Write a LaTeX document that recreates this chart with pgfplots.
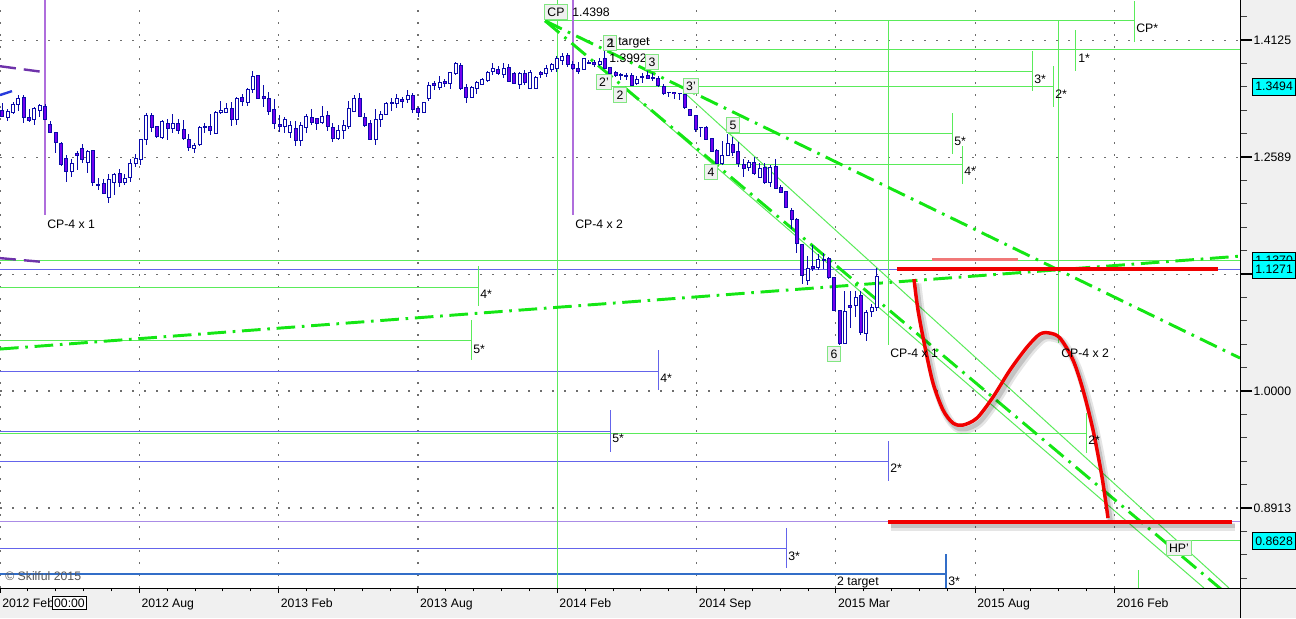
\documentclass[border=0pt]{standalone}
\usepackage{pgfplots}
\pgfplotsset{compat=1.18}
\usepackage{pgfplotstable}
\usepackage{fontspec}
\setmainfont{Liberation Sans}
\newcommand\lab{\fontsize{9.2pt}{11pt}\selectfont}
\definecolor{cdk}{RGB}{10,10,170}
\definecolor{cbear}{RGB}{115,0,240}
\definecolor{tg}{RGB}{90,235,90}
\definecolor{dg}{RGB}{20,230,20}
\definecolor{bl}{RGB}{100,100,235}
\definecolor{bltwo}{RGB}{50,110,200}
\definecolor{pu}{RGB}{175,110,220}
\definecolor{lpu}{RGB}{170,140,230}
\definecolor{dpu}{RGB}{110,50,170}
\definecolor{dbl}{RGB}{40,60,220}
\definecolor{rd}{RGB}{240,0,0}
\definecolor{salmon}{RGB}{240,120,120}
\definecolor{bxg}{RGB}{130,230,130}
\definecolor{bxf}{RGB}{240,240,240}
\definecolor{panel}{RGB}{240,240,240}
\definecolor{gridc}{RGB}{110,110,110}
\definecolor{cyanbox}{RGB}{0,255,255}

\pgfplotstableread{
x o h l c d
2.3 1.3185 1.3277 1.3095 1.3108 1
7.6 1.3095 1.3198 1.3043 1.3172 0
13.0 1.3159 1.3290 1.3134 1.3264 0
18.3 1.3264 1.3382 1.3172 1.3342 0
23.6 1.3355 1.3382 1.3018 1.3095 1
29.0 1.3095 1.3198 1.3030 1.3056 1
34.3 1.3069 1.3225 1.2992 1.3211 0
39.6 1.3185 1.3264 1.3095 1.3251 0
45.0 1.3238 1.3264 1.3069 1.3069 1
50.3 1.3005 1.3043 1.2890 1.2903 1
55.6 1.2903 1.2903 1.2639 1.2777 1
61.0 1.2764 1.2777 1.2478 1.2503 1
66.3 1.2577 1.2614 1.2284 1.2417 1
71.6 1.2417 1.2565 1.2344 1.2515 0
77.0 1.2639 1.2664 1.2429 1.2614 1
82.3 1.2701 1.2752 1.2515 1.2565 1
87.6 1.2528 1.2676 1.2393 1.2664 0
92.9 1.2676 1.2676 1.2236 1.2284 1
98.3 1.2260 1.2332 1.2187 1.2248 1
103.6 1.2272 1.2320 1.2139 1.2151 1
108.9 1.2104 1.2381 1.2033 1.2320 0
114.3 1.2284 1.2393 1.2128 1.2381 0
119.6 1.2393 1.2441 1.2223 1.2284 1
124.9 1.2284 1.2381 1.2248 1.2332 0
130.3 1.2344 1.2565 1.2284 1.2515 0
135.6 1.2515 1.2627 1.2466 1.2577 0
140.9 1.2565 1.2815 1.2491 1.2815 0
146.3 1.2815 1.3146 1.2739 1.3121 0
151.6 1.3121 1.3146 1.2903 1.2966 1
156.9 1.2979 1.2979 1.2827 1.2852 1
162.3 1.2840 1.3056 1.2815 1.3043 0
167.6 1.3018 1.3069 1.2802 1.2954 1
172.9 1.2954 1.3134 1.2890 1.3018 0
178.3 1.3018 1.3069 1.2878 1.2928 1
183.6 1.2941 1.3056 1.2802 1.2827 1
188.9 1.2815 1.2878 1.2664 1.2714 1
194.3 1.2701 1.2764 1.2639 1.2739 0
199.6 1.2752 1.2979 1.2726 1.2966 0
204.9 1.2979 1.3018 1.2890 1.2966 1
210.3 1.2979 1.3134 1.2865 1.2928 1
215.6 1.2890 1.3172 1.2878 1.3159 0
220.9 1.3159 1.3303 1.3134 1.3185 0
226.3 1.3159 1.3277 1.3146 1.3211 0
231.6 1.3211 1.3290 1.2979 1.3069 1
236.9 1.3069 1.3355 1.2992 1.3342 0
242.3 1.3355 1.3395 1.3238 1.3303 1
247.6 1.3290 1.3474 1.3238 1.3460 0
252.9 1.3460 1.3701 1.3408 1.3634 0
258.3 1.3647 1.3647 1.3329 1.3342 1
263.6 1.3369 1.3514 1.3225 1.3342 1
268.9 1.3342 1.3421 1.3121 1.3172 1
274.3 1.3198 1.3329 1.2941 1.3018 1
279.6 1.3005 1.3121 1.2903 1.2979 1
284.9 1.2979 1.3095 1.2890 1.3069 0
290.3 1.2903 1.3043 1.2827 1.2992 0
295.6 1.2954 1.3043 1.2726 1.2802 1
300.9 1.2802 1.3030 1.2726 1.2992 0
306.3 1.2966 1.3134 1.2890 1.3108 0
311.6 1.3095 1.3198 1.2992 1.3030 1
316.9 1.3082 1.3082 1.2928 1.3018 1
322.3 1.3030 1.3238 1.3005 1.3108 0
327.6 1.3121 1.3172 1.2915 1.2979 1
332.9 1.2966 1.3018 1.2777 1.2827 1
338.3 1.2827 1.2992 1.2802 1.2928 0
343.6 1.2928 1.3056 1.2815 1.2992 0
348.9 1.2979 1.3303 1.2941 1.3211 0
354.3 1.3172 1.3382 1.3159 1.3342 0
359.6 1.3342 1.3408 1.3095 1.3108 1
364.9 1.3095 1.3146 1.2966 1.2992 1
370.3 1.3018 1.3056 1.2802 1.2815 1
375.6 1.2815 1.3198 1.2739 1.3069 0
380.9 1.3069 1.3172 1.2966 1.3134 0
386.3 1.3134 1.3290 1.3121 1.3277 0
391.6 1.3290 1.3342 1.3172 1.3277 1
396.9 1.3277 1.3395 1.3211 1.3342 0
402.3 1.3329 1.3355 1.3211 1.3303 1
407.6 1.3329 1.3447 1.3277 1.3382 0
412.9 1.3382 1.3408 1.3146 1.3198 1
418.3 1.3211 1.3225 1.3095 1.3159 1
423.6 1.3159 1.3290 1.3146 1.3290 0
428.9 1.3342 1.3553 1.3303 1.3514 0
434.3 1.3540 1.3567 1.3447 1.3514 1
439.6 1.3487 1.3634 1.3447 1.3553 0
444.9 1.3567 1.3593 1.3487 1.3540 1
450.3 1.3540 1.3687 1.3460 1.3687 0
455.6 1.3674 1.3823 1.3647 1.3809 0
460.9 1.3782 1.3809 1.3447 1.3474 1
466.3 1.3487 1.3527 1.3277 1.3355 1
471.6 1.3355 1.3500 1.3355 1.3487 0
476.9 1.3474 1.3567 1.3395 1.3553 0
482.3 1.3527 1.3607 1.3514 1.3593 0
487.6 1.3580 1.3701 1.3553 1.3687 0
492.9 1.3701 1.3809 1.3647 1.3741 0
498.3 1.3728 1.3768 1.3647 1.3674 1
503.6 1.3660 1.3809 1.3607 1.3741 0
508.9 1.3755 1.3796 1.3567 1.3567 1
514.3 1.3674 1.3687 1.3527 1.3540 1
519.6 1.3527 1.3687 1.3460 1.3674 0
524.9 1.3674 1.3714 1.3514 1.3553 1
530.3 1.3474 1.3714 1.3460 1.3687 0
535.6 1.3474 1.3634 1.3460 1.3620 0
540.9 1.3687 1.3701 1.3607 1.3660 1
546.3 1.3674 1.3782 1.3620 1.3741 0
551.6 1.3728 1.3809 1.3687 1.3796 0
556.9 1.3741 1.3905 1.3687 1.3878 0
562.3 1.3850 1.3946 1.3782 1.3905 0
567.6 1.3919 1.3946 1.3755 1.3796 1
572.9 1.3796 1.3836 1.3714 1.3741 1
578.3 1.3741 1.3823 1.3660 1.3701 1
583.6 1.3728 1.3878 1.3714 1.3878 0
588.9 1.3823 1.3850 1.3796 1.3809 1
594.3 1.3823 1.3850 1.3755 1.3796 1
599.6 1.3796 1.3878 1.3768 1.3836 0
604.9 1.3878 1.3992 1.3728 1.3741 1
610.3 1.3755 1.3755 1.3634 1.3674 1
615.6 1.3687 1.3701 1.3620 1.3647 1
620.9 1.3660 1.3674 1.3580 1.3647 1
626.3 1.3647 1.3674 1.3580 1.3634 1
631.6 1.3647 1.3674 1.3500 1.3514 1
636.9 1.3540 1.3634 1.3514 1.3593 0
642.3 1.3634 1.3674 1.3540 1.3620 1
647.6 1.3647 1.3701 1.3593 1.3607 1
652.9 1.3620 1.3674 1.3567 1.3607 1
658.3 1.3607 1.3634 1.3487 1.3514 1
663.6 1.3500 1.3527 1.3382 1.3408 1
668.9 1.3421 1.3421 1.3355 1.3415 1
674.3 1.3415 1.3415 1.3329 1.3410 1
679.6 1.3408 1.3408 1.3316 1.3402 1
684.9 1.3395 1.3408 1.3198 1.3225 1
690.3 1.3198 1.3198 1.3121 1.3121 1
695.6 1.3121 1.3121 1.2903 1.2941 1
700.9 1.2966 1.2966 1.2840 1.2960 1
706.3 1.2966 1.2979 1.2802 1.2815 1
711.6 1.2827 1.2827 1.2651 1.2664 1
716.9 1.2676 1.2689 1.2491 1.2515 1
722.3 1.2515 1.2789 1.2491 1.2614 0
727.6 1.2614 1.2878 1.2602 1.2764 0
732.9 1.2752 1.2840 1.2602 1.2651 1
738.3 1.2664 1.2777 1.2466 1.2515 1
743.6 1.2503 1.2565 1.2344 1.2454 1
748.9 1.2466 1.2552 1.2417 1.2528 0
754.3 1.2528 1.2589 1.2369 1.2393 1
759.6 1.2344 1.2515 1.2344 1.2454 0
764.9 1.2466 1.2515 1.2260 1.2284 1
770.3 1.2284 1.2491 1.2223 1.2466 0
775.6 1.2478 1.2565 1.2199 1.2211 1
780.9 1.2223 1.2248 1.2151 1.2163 1
786.3 1.2175 1.2175 1.1986 1.1986 1
791.6 1.1950 1.1974 1.1729 1.1845 1
796.9 1.1845 1.1857 1.1454 1.1568 1
802.3 1.1557 1.1557 1.1110 1.1209 1
807.6 1.1154 1.1421 1.1099 1.1286 0
812.9 1.1309 1.1545 1.1253 1.1286 1
818.3 1.1298 1.1443 1.1264 1.1387 0
823.6 1.1387 1.1454 1.1275 1.1376 1
828.9 1.1398 1.1410 1.1165 1.1187 1
834.3 1.1187 1.1187 1.0819 1.0830 1
839.6 1.0830 1.0830 1.0464 1.0484 1
844.9 1.0484 1.1034 1.0474 1.0819 0
850.3 1.0883 1.1034 1.0640 1.0862 1
855.6 1.0883 1.1034 1.0756 1.0969 0
860.9 1.0991 1.1034 1.0567 1.0598 1
866.3 1.0588 1.0830 1.0505 1.0809 0
871.6 1.0819 1.0894 1.0756 1.0862 0
876.9 1.0862 1.1286 1.0819 1.1198 0
}\candles

\tikzset{
  gbox/.style={draw=bxg, fill=bxf, font=\lab, inner sep=2pt, text height=6.8pt, text depth=0pt, line width=0.75pt},
  lab/.style={font=\lab, inner sep=0pt, anchor=west},
  pbox/.style={draw=black, fill=cyanbox, font=\lab, inner xsep=2.2pt, inner ysep=0pt, minimum height=13pt, anchor=west, line width=0.6pt},
  ddot/.style={dg, line width=2.2pt, dash pattern=on 14pt off 5pt on 2pt off 5pt},
  thn/.style={tg, line width=0.75pt},
  bln/.style={bl, line width=0.75pt},
}
\pgfplotsset{
  candlebar/.style={draw=none, mark=none, forget plot, error bars/.cd, y dir=minus, y explicit, error mark=none},
  candlecap/.style={draw=none, mark=none, forget plot, error bars/.cd, x dir=both, x fixed=2, error mark=none,
    error bar style={draw=cdk, line width=0.75pt}},
}

\begin{document}
\begin{tikzpicture}
\path[use as bounding box] (0,-22.5pt) rectangle (972pt,441pt);
\fill[panel] (0,-22.5pt) rectangle (972pt,0);
\fill[panel] (930pt,0) rectangle (972pt,441pt);

% x axis: ticks, labels, vertical grid
\begin{axis}[at={(0,0)}, anchor=south west, scale only axis,
  width=930pt, height=441pt, xmin=0, xmax=1240, ymin=0, ymax=1,
  axis x line*=bottom, axis y line=none,
  xtick={0,139.3,278.6,417.9,557.2,696.5,835.8,975.1,1114.4},
  xticklabels={2012 Feb,2012 Aug,2013 Feb,2013 Aug,2014 Feb,2014 Sep,2015 Mar,2015 Aug,2016 Feb},
  minor x tick num=4, tick align=outside,
  major tick length=3.75pt, minor tick length=2.5pt,
  every major tick/.append style={black, line width=0.75pt},
  every minor tick/.append style={black, line width=0.6pt},
  xmajorgrids, grid style={gridc, line width=0.9pt, dash pattern=on 1.2pt off 7.8pt},
  xticklabel style={font=\lab, anchor=north west, inner sep=0pt, xshift=1.5pt, yshift=-4pt},
  clip mode=individual]
\end{axis}

% main price axis
\begin{axis}[at={(0,0)}, anchor=south west, scale only axis,
  width=930pt, height=441pt, xmin=0, xmax=1240,
  ymode=log, ymin=0.8238, ymax=1.4695,
  axis x line=none, axis y line*=right,
  ytick={0.8913,1,1.1220,1.2589,1.4125},
  yticklabels={0.8913,1.0000,{},1.2589,1.4125},
  minor ytick={1.4454,1.3804,1.3490,1.3183,1.2882,1.2303,1.2023,1.1749,1.1482,1.0965,1.0715,1.0471,1.0233,0.9772,0.9550,0.9333,0.9120,0.8710,0.8511,0.8318},
  tick align=outside, major tick length=9pt, minor tick length=5.25pt,
  every major tick/.append style={black, line width=1.5pt},
  every minor tick/.append style={black!75, line width=0.75pt},
  ymajorgrids, grid style={gridc, line width=0.9pt, dash pattern=on 1.2pt off 7.8pt},
  yticklabel style={font=\lab, anchor=west, inner sep=1pt},
  clip mode=individual]

% --- horizontal level lines ---
\addplot[thn] coordinates {(545,1.4398) (1134,1.4398)};
\addplot[thn] coordinates {(607,1.3992) (1240,1.3992)};
\addplot[thn] coordinates {(648,1.3701) (1032,1.3701)};
\addplot[thn] coordinates {(598,1.3494) (1053,1.3494)};
\addplot[thn] coordinates {(728,1.2890) (952,1.2890)};
\addplot[thn] coordinates {(717,1.2503) (962,1.2503)};
\addplot[thn] coordinates {(0,1.1370) (1240,1.1370)};
\addplot[bln] coordinates {(0,1.1271) (1240,1.1271)};
\addplot[thn] coordinates {(0,1.1077) (478,1.1077)};
\addplot[thn] coordinates {(0,1.0505) (471,1.0505)};
\addplot[bln] coordinates {(0,1.0199) (658,1.0199)};
\addplot[thn] coordinates {(0,0.9595) (1086,0.9595)};
\addplot[bln] coordinates {(0,0.9614) (610,0.9614)};
\addplot[bln] coordinates {(0,0.9334) (888,0.9334)};
\addplot[lpu, line width=0.75pt] coordinates {(0,0.8799) (1240,0.8799)};
\addplot[thn] coordinates {(1167,0.8628) (1240,0.8628)};
\addplot[bln] coordinates {(0,0.8568) (786,0.8568)};
\addplot[bltwo, line width=1.4pt] coordinates {(0,0.8352) (946,0.8352)};

% --- marker verticals ---
\addplot[thn] coordinates {(1134,1.4678) (1134,1.4098)};
\addplot[thn] coordinates {(1075,1.4265) (1075,1.3701)};
\addplot[thn] coordinates {(1032,1.3973) (1032,1.3434)};
\addplot[thn] coordinates {(1053,1.3768) (1053,1.3225)};
\addplot[thn] coordinates {(952,1.3146) (952,1.2627)};
\addplot[thn] coordinates {(962,1.2726) (962,1.2260)};
\addplot[thn] coordinates {(478,1.1309) (478,1.0873)};
\addplot[thn] coordinates {(471,1.0724) (471,1.0310)};
\addplot[bln] coordinates {(658,1.0412) (658,1.0010)};
\addplot[bln] coordinates {(610,0.9815) (610,0.9417)};
\addplot[bln] coordinates {(888,0.9520) (888,0.9153)};
\addplot[thn] coordinates {(1086,0.9786) (1086,0.9408)};
\addplot[bln] coordinates {(786,0.8739) (786,0.8402)};
\addplot[bltwo, line width=1pt] coordinates {(946,0.8518) (946,0.8238)};
\addplot[thn] coordinates {(1138,0.8385) (1138,0.8238)};

% --- long verticals ---
\addplot[thn] coordinates {(557,1.4695) (557,0.8238)};
\addplot[thn] coordinates {(888,1.4398) (888,1.0463)};
\addplot[thn] coordinates {(1058,1.4398) (1058,1.0484)};
\addplot[pu, line width=1pt] coordinates {(45,1.4695) (45,1.1892)};
\addplot[pu, line width=1pt] coordinates {(573,1.4695) (573,1.1892)};

% --- dashed left fragments ---
\addplot[dpu, line width=1.8pt, dash pattern=on 12pt off 6pt] coordinates {(0,1.3768) (45,1.3687)};
\addplot[dbl, line width=1.8pt, dash pattern=on 12pt off 6pt] coordinates {(0,1.3382) (12,1.3434)};
\addplot[dpu, line width=1.8pt, dash pattern=on 12pt off 6pt] coordinates {(0,1.1398) (45,1.1353)};

% --- channel lines ---
\addplot[thn] coordinates {(687,1.3382) (1229,0.8238)};
\addplot[thn] coordinates {(627,1.3447) (1204,0.8238)};
\addplot[ddot] coordinates {(545,1.4398) (1240,1.0330)};
\addplot[ddot] coordinates {(545,1.4398) (1222,0.8222)};
\addplot[ddot] coordinates {(0,1.0422) (1240,1.1420)};

% --- candles: wick, body outline, body fill, top and bottom edges ---
\addplot[candlebar, error bar style={draw=cdk, line width=0.75pt}]
  table[x=x, y=h, y error minus expr={\thisrow{h}-\thisrow{l}}] {\candles};
\addplot[candlebar, error bar style={draw=cdk, line width=3pt}]
  table[x=x, y expr={max(\thisrow{o},\thisrow{c})}, y error minus expr={abs(\thisrow{o}-\thisrow{c})}] {\candles};
\addplot[restrict expr to domain={\thisrow{d}}{0:0}, candlebar, error bar style={draw=white, line width=1.5pt}]
  table[x=x, y expr={max(\thisrow{o},\thisrow{c})}, y error minus expr={abs(\thisrow{o}-\thisrow{c})}] {\candles};
\addplot[restrict expr to domain={\thisrow{d}}{1:1}, candlebar, error bar style={draw=cbear, line width=1.5pt}]
  table[x=x, y expr={max(\thisrow{o},\thisrow{c})}, y error minus expr={abs(\thisrow{o}-\thisrow{c})}] {\candles};
\addplot[candlecap] table[x=x, y expr={max(\thisrow{o},\thisrow{c})}] {\candles};
\addplot[candlecap] table[x=x, y expr={min(\thisrow{o},\thisrow{c})}] {\candles};

% --- red forecast ---
\addplot[salmon, line width=2.2pt] coordinates {(932,1.1387) (1018,1.1387)};
\addplot[black, opacity=0.10, line width=6pt, xshift=2.5pt, yshift=-3.5pt] coordinates {(888,0.8791) (1232,0.8791)};
\addplot[black, opacity=0.15, line width=3.5pt, xshift=2pt, yshift=-3pt] coordinates {(888,0.8791) (1232,0.8791)};
\addplot[black, opacity=0.10, line width=6pt, smooth, xshift=2.5pt, yshift=-3.5pt] coordinates {
 (914,1.1165) (918,1.0830) (925,1.0442) (933,1.0079) (943,0.9815) (953,0.9690) (963,0.9671) (977,0.9738)
 (993,0.9941) (1010,1.0209) (1027,1.0442) (1040,1.0577) (1050,1.0587) (1060,1.0535) (1073,1.0310)
 (1083,1.0010) (1093,0.9624) (1102,0.9189) (1108,0.8825)};
\addplot[black, opacity=0.15, line width=3.5pt, smooth, xshift=2pt, yshift=-3pt] coordinates {
 (914,1.1165) (918,1.0830) (925,1.0442) (933,1.0079) (943,0.9815) (953,0.9690) (963,0.9671) (977,0.9738)
 (993,0.9941) (1010,1.0209) (1027,1.0442) (1040,1.0577) (1050,1.0587) (1060,1.0535) (1073,1.0310)
 (1083,1.0010) (1093,0.9624) (1102,0.9189) (1108,0.8825)};
\addplot[rd, line width=3pt] coordinates {(897,1.1271) (1218,1.1271)};
\addplot[rd, line width=3pt] coordinates {(888,0.8791) (1232,0.8791)};
\addplot[rd, line width=2.6pt, smooth] coordinates {
 (914,1.1165) (918,1.0830) (925,1.0442) (933,1.0079) (943,0.9815) (953,0.9690) (963,0.9671) (977,0.9738)
 (993,0.9941) (1010,1.0209) (1027,1.0442) (1040,1.0577) (1050,1.0587) (1060,1.0535) (1073,1.0310)
 (1083,1.0010) (1093,0.9624) (1102,0.9189) (1108,0.8825)};

% --- boxed labels ---
\node[gbox] at (556,1.4522) {CP};
\node[lab] at (572,1.4522) {1.4398};
\node[gbox] at (610,1.4084) {2};
\node[lab] at (608,1.4084) {1};
\node[lab] at (618,1.4084) {target};
\node[lab] at (609,1.3878) {1.3992};
\node[gbox] at (604,1.3554) {2'};
\node[gbox] at (620,1.3382) {2};
\node[gbox] at (652,1.3823) {3};
\node[gbox] at (691,1.3500) {3'};
\node[gbox] at (733,1.2992) {5};
\node[gbox] at (711,1.2405) {4};
\node[gbox] at (834,1.0371) {6};
\node[gbox] at (1179,0.8568) {HP'};

% --- plain labels ---
\node[lab] at (47,1.1787) {CP-4 x 1};
\node[lab] at (575,1.1787) {CP-4 x 2};
\node[lab] at (890,1.0381) {CP-4 x 1};
\node[lab] at (1061,1.0381) {CP-4 x 2};
\node[lab] at (480,1.1002) {4*};
\node[lab] at (473,1.0422) {5*};
\node[lab] at (660,1.0129) {4*};
\node[lab] at (612,0.9548) {5*};
\node[lab] at (890,0.9271) {2*};
\node[lab] at (1088,0.9529) {2*};
\node[lab] at (788,0.8501) {3*};
\node[lab] at (948,0.8293) {3*};
\node[lab, anchor=east] at (879,0.8285) {2 target};
\node[lab] at (954,1.2789) {5*};
\node[lab] at (964,1.2417) {4*};
\node[lab] at (1034,1.3594) {3*};
\node[lab] at (1055,1.3395) {2*};
\node[lab] at (1078,1.3878) {1*};
\node[lab] at (1136,1.4293) {CP*};
\node[lab, text=black!65] at (5,0.8332) {\textcopyright\ Skilful 2015};

% --- price boxes on the scale ---
\node[pbox] at (1252,1.3494) {1.3494};
\node[pbox] at (1252,1.1370) {1.1370};
\node[pbox] at (1252,1.1271) {1.1271};
\node[pbox] at (1252,0.8628) {0.8628};
\end{axis}

\draw[black, line width=0.75pt] (0,0) -- (972pt,0);
\draw[black, line width=0.75pt] (930pt,-22.5pt) -- (930pt,441pt);
\node[draw=black, fill=white, font=\lab, inner sep=1.5pt, line width=0.75pt] at (52.1pt,-11.25pt) {00:00};
\end{tikzpicture}
\end{document}
